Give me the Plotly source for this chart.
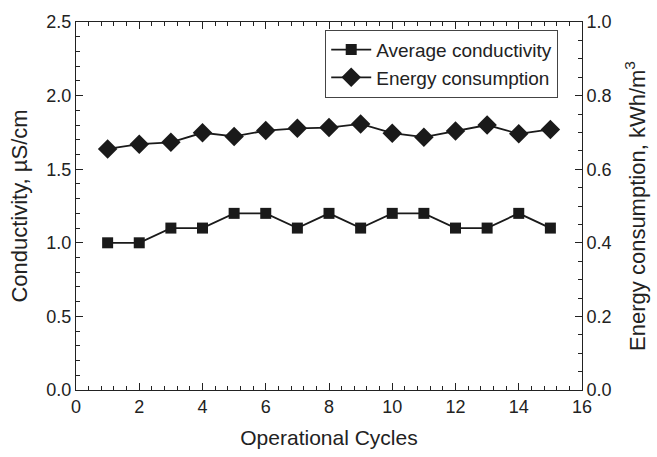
import plotly.graph_objects as go

cycles = list(range(1, 16))
conductivity = [1.0, 1.0, 1.1, 1.1, 1.2, 1.2, 1.1, 1.2, 1.1, 1.2, 1.2, 1.1, 1.1, 1.2, 1.1]
energy = [0.655, 0.668, 0.673, 0.699, 0.689, 0.705, 0.711, 0.713, 0.723, 0.698, 0.687, 0.704, 0.720, 0.696, 0.708]

FONT = "Liberation Sans, Arial, sans-serif"
C = "#222"
fig = go.Figure()
fig.add_trace(go.Scatter(x=cycles, y=conductivity, mode="lines+markers", name="Average conductivity",
                         line=dict(color="#1a1a1a", width=1.8),
                         marker=dict(symbol="square", size=11, color="#1a1a1a")))
fig.add_trace(go.Scatter(x=cycles, y=energy, mode="lines+markers", name="Energy consumption",
                         yaxis="y2", line=dict(color="#1a1a1a", width=1.8),
                         marker=dict(symbol="diamond", size=15, color="#1a1a1a")))

axcommon = dict(showline=True, linecolor=C, linewidth=1, ticks="inside", ticklen=7,
                tickcolor=C, showgrid=False, zeroline=False,
                tickfont=dict(family=FONT, size=18, color=C))

fig.update_layout(
    width=657, height=457,
    margin=dict(l=76, r=74, t=20, b=62),
    paper_bgcolor="white", plot_bgcolor="white",
    font=dict(family=FONT, color=C),
    showlegend=True,
    legend=dict(x=0.953, y=0.979, xanchor="right", yanchor="top", bordercolor="#444", borderwidth=1,
                font=dict(family=FONT, size=19, color=C), bgcolor="white",
                tracegroupgap=0, itemwidth=40),
    xaxis=dict(range=[0, 16], dtick=2, mirror="ticks",
               minor=dict(ticks="inside", ticklen=4, dtick=0.4, tickcolor=C),
               title=dict(text="Operational Cycles", font=dict(family=FONT, size=21, color=C), standoff=14),
               **axcommon),
    yaxis=dict(range=[0, 2.5], dtick=0.5, tickformat=".1f",
               minor=dict(ticks="inside", ticklen=4, dtick=0.1, tickcolor=C),
               title=dict(text="Conductivity, µS/cm", font=dict(family=FONT, size=22, color=C), standoff=12),
               **axcommon),
    yaxis2=dict(range=[0, 1.0], dtick=0.2, tickformat=".1f", overlaying="y", side="right",
                minor=dict(ticks="inside", ticklen=4, dtick=0.05, tickcolor=C),
                title=dict(text="Energy consumption, kWh/m<sup>3</sup>", font=dict(family=FONT, size=22, color=C), standoff=18),
                **axcommon),
)

fig.write_html("out.html")
